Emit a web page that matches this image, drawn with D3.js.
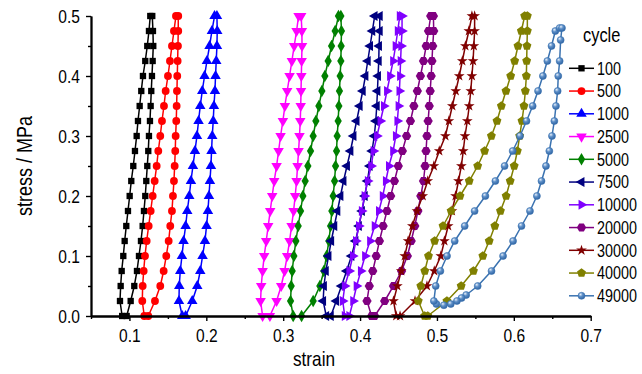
<!DOCTYPE html>
<html>
<head>
<meta charset="utf-8">
<script src="https://cdn.jsdelivr.net/npm/d3@7"></script>
<style>
body { margin: 0; background: #fff; }
text { font-family: "Liberation Sans", Arial, sans-serif; fill: #000; }
</style>
</head>
<body>
<svg id="chart" width="642" height="374"></svg>
<script>
// cycle numbers (legend)
var cycles = ["100", "500", "1000", "2500", "5000", "7500", "10000", "20000", "30000", "40000", "49000"];

// stress levels shared by most loops (MPa)
var levels = [0, 0.025, 0.05, 0.075, 0.1, 0.125, 0.15, 0.175, 0.2, 0.225, 0.25,
              0.275, 0.3, 0.325, 0.35, 0.375, 0.4, 0.425, 0.45, 0.475, 0.5];

// strain of loading branch and of unloading branch, both listed bottom -> top at those levels
var load100    = [0.0905,0.0877,0.0886,0.0899,0.0920,0.0938,0.0959,0.0981,0.1003,0.1024,0.1050,0.1072,0.1094,0.1111,0.1133,0.1154,0.1176,0.1206,0.1232,0.1254,0.1271];
var unload100  = [0.0964,0.1016,0.1063,0.1098,0.1124,0.1150,0.1172,0.1189,0.1206,0.1219,0.1232,0.1245,0.1254,0.1267,0.1276,0.1284,0.1293,0.1302,0.1310,0.1306,0.1297];
var load500    = [0.1193,0.1167,0.1172,0.1185,0.1202,0.1224,0.1250,0.1276,0.1302,0.1328,0.1354,0.1375,0.1401,0.1423,0.1449,0.1471,0.1501,0.1527,0.1553,0.1579,0.1605];
var unload500  = [0.1245,0.1332,0.1401,0.1445,0.1479,0.1510,0.1531,0.1553,0.1566,0.1579,0.1588,0.1596,0.1601,0.1609,0.1614,0.1618,0.1622,0.1627,0.1631,0.1635,0.1635];
var load1000   = [0.1687,0.1644,0.1648,0.1661,0.1683,0.1704,0.1731,0.1752,0.1778,0.1800,0.1826,0.1852,0.1878,0.1899,0.1921,0.1947,0.1977,0.2008,0.2042,0.2073,0.2107];
var unload1000 = [0.1731,0.1817,0.1882,0.1921,0.1951,0.1982,0.2003,0.2021,0.2034,0.2047,0.2060,0.2068,0.2077,0.2090,0.2099,0.2112,0.2120,0.2129,0.2138,0.2142,0.2138];
var load2500   = [0.2732,0.2706,0.2714,0.2732,0.2753,0.2779,0.2805,0.2831,0.2857,0.2883,0.2914,0.2940,0.2966,0.2996,0.3022,0.3052,0.3083,0.3113,0.3143,0.3174,0.3200];
var unload2500 = [0.2827,0.2914,0.2974,0.3018,0.3052,0.3083,0.3109,0.3135,0.3156,0.3174,0.3187,0.3200,0.3212,0.3222,0.3228,0.3232,0.3236,0.3240,0.3245,0.3243,0.3234];
var load5000   = [0.3130,0.3096,0.3104,0.3117,0.3139,0.3165,0.3195,0.3226,0.3256,0.3286,0.3321,0.3356,0.3390,0.3425,0.3464,0.3503,0.3542,0.3585,0.3629,0.3676,0.3719];
var unload5000 = [0.3239,0.3390,0.3477,0.3529,0.3564,0.3594,0.3616,0.3633,0.3650,0.3668,0.3681,0.3694,0.3702,0.3715,0.3724,0.3732,0.3741,0.3750,0.3754,0.3758,0.3750];
var load7500   = [0.3560,0.3520,0.3530,0.3555,0.3590,0.3625,0.3665,0.3705,0.3745,0.3785,0.3830,0.3875,0.3915,0.3955,0.3995,0.4035,0.4070,0.4100,0.4130,0.4160,0.4190];
var unload7500 = [0.3620,0.3690,0.3758,0.3825,0.3888,0.3940,0.3985,0.4025,0.4061,0.4095,0.4125,0.4155,0.4185,0.4204,0.4217,0.4226,0.4234,0.4243,0.4247,0.4256,0.4256];
var load10000  = [0.3800,0.3775,0.3801,0.3860,0.3906,0.3946,0.3985,0.4022,0.4058,0.4100,0.4145,0.4175,0.4220,0.4265,0.4310,0.4350,0.4390,0.4430,0.4462,0.4490,0.4516];
var unload10000= [0.3860,0.3910,0.3955,0.4010,0.4065,0.4130,0.4190,0.4245,0.4295,0.4335,0.4375,0.4430,0.4465,0.4485,0.4500,0.4512,0.4520,0.4527,0.4535,0.4546,0.4546];
var load20000  = [0.4150,0.4090,0.4120,0.4165,0.4210,0.4252,0.4300,0.4350,0.4398,0.4447,0.4497,0.4550,0.4605,0.4655,0.4700,0.4745,0.4785,0.4825,0.4860,0.4890,0.4919];
var unload20000= [0.4190,0.4320,0.4435,0.4540,0.4615,0.4665,0.4712,0.4752,0.4790,0.4825,0.4846,0.4858,0.4870,0.4885,0.4900,0.4912,0.4925,0.4935,0.4945,0.4958,0.4954];
var load30000  = [0.4470,0.4435,0.4485,0.4535,0.4581,0.4625,0.4680,0.4740,0.4815,0.4880,0.4960,0.5030,0.5110,0.5155,0.5200,0.5245,0.5290,0.5330,0.5370,0.5415,0.5455];
var unload30000= [0.4520,0.4715,0.4870,0.4965,0.5050,0.5097,0.5146,0.5195,0.5242,0.5280,0.5318,0.5342,0.5365,0.5395,0.5420,0.5440,0.5455,0.5470,0.5480,0.5490,0.5490];
var load40000  = [0.4840,0.4757,0.4790,0.4842,0.4890,0.4970,0.5079,0.5185,0.5300,0.5420,0.5530,0.5620,0.5708,0.5781,0.5838,0.5898,0.5959,0.6011,0.6054,0.6098,0.6141];
var unload40000= [0.4880,0.5130,0.5315,0.5475,0.5597,0.5680,0.5753,0.5826,0.5900,0.5953,0.6005,0.6046,0.6076,0.6106,0.6132,0.6150,0.6163,0.6167,0.6171,0.6176,0.6176];

// 49000 cycles does not reach 0.5 MPa: own stress points
var stressUp49000   = [0.02,0.025,0.05,0.075,0.1,0.125,0.15,0.175,0.2,0.225,0.25,0.275,0.3,0.325,0.35,0.375,0.4,0.425,0.45,0.475,0.48];
var load49000       = [0.4993,0.4960,0.4984,0.5045,0.5131,0.5231,0.5361,0.5490,0.5630,0.5760,0.5880,0.5985,0.6080,0.6165,0.6245,0.6315,0.6378,0.6436,0.6490,0.6540,0.6596];
var stressDown49000 = [0.48,0.46,0.425,0.4,0.375,0.35,0.325,0.3,0.275,0.25,0.225,0.2,0.175,0.15,0.125,0.1,0.075,0.05,0.035,0.03,0.025,0.02,0.018];
var unload49000     = [0.6626,0.6609,0.6596,0.6578,0.6570,0.6548,0.6527,0.6496,0.6462,0.6418,0.6360,0.6300,0.6210,0.6100,0.5990,0.5860,0.5710,0.5530,0.5380,0.5320,0.5260,0.5180,0.5090];

var xTicks = [0.1, 0.2, 0.3, 0.4, 0.5, 0.6, 0.7];
var xMinor = [0.05, 0.15, 0.25, 0.35, 0.45, 0.55, 0.65];
var yTicks = [0, 0.1, 0.2, 0.3, 0.4, 0.5];
var yMinor = [0.05, 0.15, 0.25, 0.35, 0.45];

var colors = ["#000000", "#ff0000", "#0000ff", "#ff00ff", "#008000", "#000080",
              "#8000ff", "#800080", "#800000", "#808000", "#3a72b0"];

// build loops: loading up then unloading down
function loop(up, down) {
    var pts = up.map(function(s, i) { return [s, levels[i]]; });
    for (var i = down.length - 1; i >= 0; i--) pts.push([down[i], levels[i]]);
    return pts;
}
var series = [
    loop(load100, unload100), loop(load500, unload500), loop(load1000, unload1000),
    loop(load2500, unload2500), loop(load5000, unload5000), loop(load7500, unload7500),
    loop(load10000, unload10000), loop(load20000, unload20000), loop(load30000, unload30000),
    loop(load40000, unload40000),
    load49000.map(function(s, i) { return [s, stressUp49000[i]]; })
        .concat(unload49000.map(function(s, i) { return [s, stressDown49000[i]]; }))
];

var svg = d3.select("#chart");
var x = d3.scaleLinear().domain([0.05, 0.7]).range([91, 590.7]);
var y = d3.scaleLinear().domain([0, 0.5]).range([316, 16]);
var SX = 0.82; // the original lettering is condensed

// custom polygon markers
function polygon(n, rot) {
    return { draw: function(ctx, size) {
        var r = Math.sqrt(size / (0.5 * n * Math.sin(2 * Math.PI / n)));
        for (var k = 0; k < n; k++) {
            var a = rot + 2 * Math.PI * k / n;
            if (k == 0) ctx.moveTo(r * Math.sin(a), -r * Math.cos(a));
            else ctx.lineTo(r * Math.sin(a), -r * Math.cos(a));
        }
        ctx.closePath();
    }};
}
var shapes = [
    { t: d3.symbolSquare, s: 40, r: 0 },
    { t: d3.symbolCircle, s: 48, r: 0 },
    { t: d3.symbolTriangle, s: 48, r: 0 },
    { t: d3.symbolTriangle, s: 48, r: 180 },
    { t: d3.symbolDiamond, s: 46, r: 0 },
    { t: d3.symbolTriangle, s: 44, r: -90 },
    { t: d3.symbolTriangle, s: 44, r: 90 },
    { t: polygon(6, Math.PI / 6), s: 56, r: 0 },
    { t: d3.symbolStar, s: 36, r: 0 },
    { t: polygon(5, 0), s: 52, r: 0 },
    null
];

var defs = svg.append("defs");
var grad = defs.append("radialGradient").attr("id", "ball")
    .attr("cx", "40%").attr("cy", "35%").attr("r", "65%").attr("fx", "35%").attr("fy", "30%");
grad.append("stop").attr("offset", "0%").attr("stop-color", "#e8f0fa");
grad.append("stop").attr("offset", "45%").attr("stop-color", "#5d8fc8");
grad.append("stop").attr("offset", "100%").attr("stop-color", "#2f64a3");

function marker(g, i, px, py) {
    if (shapes[i] == null) {
        g.append("circle").attr("cx", px).attr("cy", py).attr("r", 3.5)
            .attr("fill", "url(#ball)").attr("stroke", colors[i]).attr("stroke-width", 0.6);
        return;
    }
    g.append("path")
        .attr("d", d3.symbol().type(shapes[i].t).size(shapes[i].s)())
        .attr("transform", "translate(" + px + "," + py + ") rotate(" + shapes[i].r + ")")
        .attr("fill", colors[i]);
}

var line = d3.line().x(function(d) { return x(d[0]); }).y(function(d) { return y(d[1]); });

var plot = svg.append("g");
series.forEach(function(pts, i) {
    var g = plot.append("g");
    g.append("path").datum(pts).attr("d", line)
        .attr("fill", "none").attr("stroke", colors[i]).attr("stroke-width", 1.5);
    pts.forEach(function(d) { marker(g, i, x(d[0]), y(d[1])); });
});

// axes
var xAxis = svg.append("g").attr("class", "xax").attr("transform", "translate(0,316)")
    .call(d3.axisBottom(x).tickValues(xTicks).tickFormat(d3.format(".1f")).tickSize(5).tickSizeOuter(0).tickPadding(8));
svg.append("g").attr("transform", "translate(0,316)")
    .call(d3.axisBottom(x).tickValues(xMinor).tickFormat("").tickSize(3).tickSizeOuter(0));
var yAxis = svg.append("g").attr("class", "yax").attr("transform", "translate(91,0)")
    .call(d3.axisLeft(y).tickValues(yTicks).tickFormat(d3.format(".1f")).tickSize(5).tickSizeOuter(0).tickPadding(6));
svg.append("g").attr("transform", "translate(91,0)")
    .call(d3.axisLeft(y).tickValues(yMinor).tickFormat("").tickSize(3).tickSizeOuter(0));
svg.selectAll(".domain").attr("stroke", "#000").attr("stroke-width", 1.8);
svg.selectAll(".tick line").attr("stroke", "#000").attr("stroke-width", 1.4);
svg.selectAll(".tick text").attr("font-family", null).attr("font-size", "19px").attr("fill", "#000")
    .attr("transform", "scale(" + SX + ",1)");
yAxis.selectAll(".tick text").attr("x", -11 / SX);

function label(px, py, rot, size, str, anchor) {
    svg.append("g").attr("transform", "translate(" + px + "," + py + ") rotate(" + rot + ") scale(" + SX + ",1)")
        .append("text").attr("text-anchor", anchor).attr("font-size", size).text(str);
}
label(314, 366, 0, "21px", "strain", "middle");
label(32, 166, -90, "22px", "stress / MPa", "middle");

// legend
label(583, 42, 0, "20px", "cycle", "start");
cycles.forEach(function(c, i) {
    var ly = 68.3 + i * 22.75;
    svg.append("line").attr("x1", 569).attr("x2", 594).attr("y1", ly).attr("y2", ly)
        .attr("stroke", colors[i]).attr("stroke-width", 1.5);
    marker(svg, i, 581.5, ly);
    label(597, ly + 6.3, 0, "17.5px", c, "start");
});
</script>
</body>
</html>
